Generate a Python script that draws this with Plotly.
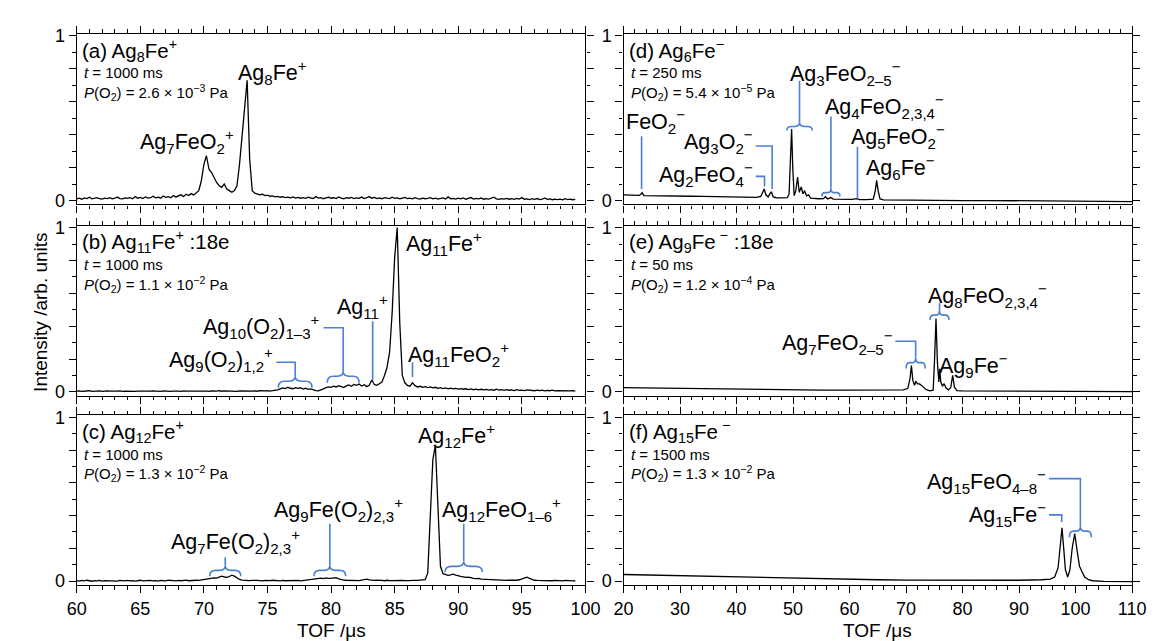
import numpy as np
import plotly.graph_objects as go

FONT = "Liberation Sans, Arial, sans-serif"
BLUE = "#4a7ed8"

# ---------------- data ----------------
TOF_LEFT = np.round(np.arange(60.0, 99.2001, 0.2), 1)

INT_A = [
    0.010, 0.014, 0.008, 0.016, 0.012, 0.020, 0.010, 0.013, 0.018, 0.011,
    0.009, 0.015, 0.012, 0.017, 0.010, 0.014, 0.021, 0.012, 0.010, 0.016,
    0.013, 0.018, 0.011, 0.024, 0.014, 0.019, 0.012, 0.022, 0.015, 0.017,
    0.026, 0.016, 0.020, 0.014, 0.028, 0.019, 0.024, 0.017, 0.030, 0.022,
    0.027, 0.035, 0.024, 0.038, 0.030, 0.042, 0.034, 0.048, 0.060, 0.120,
    0.220, 0.272, 0.190, 0.170, 0.140, 0.110, 0.090, 0.080, 0.100, 0.070,
    0.060, 0.050, 0.060, 0.090, 0.220, 0.400, 0.550, 0.730, 0.250, 0.060,
    0.045, 0.040, 0.035, 0.038, 0.030, 0.033, 0.026, 0.028, 0.022, 0.025,
    0.020, 0.024, 0.018, 0.021, 0.016, 0.022, 0.015, 0.019, 0.014, 0.018,
    0.013, 0.020, 0.016, 0.012, 0.024, 0.015, 0.018, 0.011, 0.016, 0.020,
    0.014, 0.017, 0.012, 0.022, 0.015, 0.011, 0.018, 0.014, 0.019, 0.012,
    0.016, 0.013, 0.021, 0.012, 0.017, 0.024, 0.014, 0.019, 0.012, 0.016,
    0.011, 0.018, 0.014, 0.012, 0.020, 0.013, 0.016, 0.010, 0.015, 0.019,
    0.012, 0.014, 0.010, 0.017, 0.012, 0.009, 0.015, 0.011, 0.013, 0.018,
    0.010, 0.014, 0.009, 0.012, 0.016, 0.010, 0.022, 0.011, 0.013, 0.009,
    0.014, 0.010, 0.016, 0.008, 0.012, 0.018, 0.009, 0.013, 0.010, 0.015,
    0.008, 0.012, 0.009, 0.014, 0.020, 0.010, 0.007, 0.012, 0.009, 0.013,
    0.008, 0.011, 0.007, 0.013, 0.009, 0.018, 0.008, 0.010, 0.006, 0.011,
    0.007, 0.012, 0.006, 0.009, 0.016, 0.007, 0.010, 0.005, 0.009, 0.006,
    0.008, 0.004, 0.011, 0.006, 0.009, 0.005, 0.007,
]

INT_B = [
    0.004, 0.006, 0.003, 0.005, 0.004, 0.007, 0.003, 0.005, 0.004, 0.006,
    0.003, 0.005, 0.006, 0.004, 0.003, 0.005, 0.004, 0.006, 0.003, 0.005,
    0.004, 0.006, 0.004, 0.003, 0.005, 0.004, 0.006, 0.003, 0.005, 0.004,
    0.006, 0.004, 0.005, 0.003, 0.006, 0.004, 0.005, 0.003, 0.004, 0.006,
    0.005, 0.003, 0.006, 0.004, 0.005, 0.003, 0.006, 0.005, 0.004, 0.006,
    0.004, 0.005, 0.003, 0.006, 0.004, 0.005, 0.007, 0.004, 0.006, 0.005,
    0.004, 0.006, 0.005, 0.003, 0.006, 0.005, 0.007, 0.004, 0.006, 0.005,
    0.006, 0.004, 0.007, 0.005, 0.006, 0.008, 0.005, 0.007, 0.009, 0.012,
    0.018, 0.024, 0.020, 0.028, 0.022, 0.019, 0.026, 0.021, 0.025, 0.017,
    0.022, 0.015, 0.018, 0.011, 0.008, 0.006, 0.010, 0.018, 0.026, 0.030,
    0.028, 0.035, 0.030, 0.038, 0.032, 0.027, 0.036, 0.042, 0.034, 0.045,
    0.040, 0.048, 0.036, 0.044, 0.032, 0.040, 0.072, 0.045, 0.040, 0.050,
    0.060, 0.100, 0.150, 0.240, 0.480, 0.820, 1.000, 0.420, 0.100, 0.055,
    0.040, 0.035, 0.055, 0.038, 0.030, 0.034, 0.028, 0.032, 0.026, 0.030,
    0.024, 0.028, 0.022, 0.026, 0.020, 0.024, 0.019, 0.023, 0.018, 0.021,
    0.017, 0.020, 0.016, 0.019, 0.014, 0.018, 0.013, 0.017, 0.012, 0.016,
    0.012, 0.015, 0.011, 0.014, 0.010, 0.016, 0.011, 0.013, 0.009, 0.014,
    0.010, 0.012, 0.008, 0.013, 0.009, 0.011, 0.008, 0.012, 0.009, 0.010,
    0.007, 0.011, 0.008, 0.010, 0.006, 0.009, 0.007, 0.010, 0.006, 0.008,
    0.007, 0.009, 0.005, 0.008, 0.006, 0.008, 0.005,
]

INT_C = [
    0.003, 0.000, 0.004, 0.001, 0.005, 0.002, -0.001, 0.003, 0.001, 0.004,
    0.000, 0.003, 0.002, 0.005, 0.001, 0.003, 0.000, 0.004, 0.002, 0.001,
    0.004, 0.001, 0.003, 0.000, 0.002, 0.005, 0.001, 0.003, 0.002, 0.004,
    0.001, 0.003, 0.000, 0.004, 0.002, 0.001, 0.005, 0.002, 0.003, 0.001,
    0.004, 0.002, 0.003, 0.006, 0.002, 0.004, 0.003, 0.005, 0.004, 0.007,
    0.006, 0.009, 0.012, 0.015, 0.020, 0.018, 0.024, 0.030, 0.026, 0.022,
    0.028, 0.036, 0.030, 0.018, 0.010, 0.006, 0.004, 0.005, 0.003, 0.004,
    0.002, 0.004, 0.003, 0.001, 0.004, 0.002, 0.003, 0.005, 0.002, 0.003,
    0.001, 0.004, 0.002, 0.003, 0.000, 0.003, 0.002, 0.004, 0.001, 0.003,
    0.004, 0.006, 0.009, 0.012, 0.016, 0.014, 0.018, 0.015, 0.019, 0.017,
    0.016, 0.020, 0.021, 0.014, 0.009, 0.006, 0.005, 0.004, 0.006, 0.004,
    0.005, 0.003, 0.006, 0.008, 0.012, 0.007, 0.005, 0.004, 0.006, 0.003,
    0.004, 0.002, 0.005, 0.003, 0.004, 0.002, 0.005, 0.003, 0.004, 0.003,
    0.005, 0.003, 0.004, 0.002, 0.004, 0.006, 0.005, 0.008, 0.050, 0.450,
    0.740, 0.830, 0.420, 0.090, 0.045, 0.040, 0.035, 0.038, 0.042, 0.036,
    0.030, 0.028, 0.025, 0.022, 0.024, 0.019, 0.017, 0.015, 0.016, 0.012,
    0.011, 0.009, 0.010, 0.007, 0.008, 0.006, 0.008, 0.005, 0.006, 0.004,
    0.005, 0.004, 0.006, 0.005, 0.008, 0.012, 0.020, 0.024, 0.016, 0.008,
    0.005, 0.004, 0.003, 0.005, 0.002, 0.004, 0.003, 0.002, 0.004, 0.002,
    0.003, 0.001, 0.004, 0.002, 0.003, 0.001, 0.002,
]

TOF_D = [20, 21, 22, 22.8, 23.1, 23.3, 23.6, 24.5, 26, 28, 30, 32, 34, 36, 38, 40, 42,
         43.5, 44.3, 44.7, 44.9, 45.2, 45.6, 45.9, 46.15, 46.5, 47, 48, 49, 49.3, 49.55,
         49.75, 49.95, 50.2, 50.5, 50.8, 51.1, 51.45, 51.75, 52.05, 52.4, 52.75, 53.1,
         53.6, 54.5, 55.4, 55.75, 56.1, 56.4, 56.7, 57.1, 58, 59, 60.5, 61.2, 61.8, 63,
         64.2, 64.55, 64.8, 65.05, 65.4, 66, 68, 72, 76, 80, 85, 90, 95, 100, 105, 110]
INT_D = [0.034, 0.033, 0.032, 0.031, 0.040, 0.048, 0.030, 0.030, 0.029, 0.028, 0.027,
         0.026, 0.025, 0.024, 0.023, 0.021, 0.020, 0.019, 0.025, 0.055, 0.070, 0.035,
         0.022, 0.040, 0.053, 0.022, 0.017, 0.016, 0.018, 0.040, 0.250, 0.434, 0.200,
         0.030, 0.060, 0.143, 0.050, 0.083, 0.040, 0.060, 0.028, 0.034, 0.015, 0.012,
         0.011, 0.012, 0.024, 0.010, 0.012, 0.018, 0.009, 0.008, 0.008, 0.007, 0.011,
         0.006, 0.006, 0.008, 0.060, 0.123, 0.060, 0.010, 0.004, 0.003, 0.002, 0.001,
         0.000, 0.000, -0.002, -0.003, -0.004, -0.005, -0.006]

TOF_E = [20, 24, 28, 32, 36, 40, 45, 50, 55, 60, 65, 68, 69.5, 70.3, 70.7, 70.95, 71.2,
         71.5, 71.75, 72.0, 72.4, 72.9, 73.5, 74.2, 74.8, 75.05, 75.3, 75.55, 75.8, 75.95,
         76.15, 76.45, 76.75, 77.05, 77.5, 77.9, 78.25, 78.55, 79.0, 80, 85, 90, 95, 100,
         105, 110]
INT_E = [0.026, 0.024, 0.022, 0.020, 0.017, 0.015, 0.013, 0.012, 0.011, 0.011, 0.010,
         0.010, 0.012, 0.020, 0.080, 0.160, 0.070, 0.040, 0.065, 0.050, 0.048, 0.035,
         0.015, 0.006, 0.010, 0.200, 0.447, 0.180, 0.060, 0.140, 0.060, 0.035, 0.050,
         0.025, 0.012, 0.025, 0.100, 0.030, 0.008, 0.006, 0.005, 0.004, 0.004, 0.003,
         0.003, 0.002]

TOF_F = [20, 25, 30, 35, 40, 45, 50, 55, 60, 65, 70, 75, 80, 85, 90, 94, 95.5, 96.3,
         96.9, 97.3, 97.6, 97.9, 98.2, 98.6, 99.0, 99.4, 99.85, 100.3, 100.7, 101.1,
         101.6, 102.3, 103, 105, 110]
INT_F = [0.040, 0.036, 0.032, 0.028, 0.024, 0.020, 0.016, 0.013, 0.010, 0.008, 0.006,
         0.005, 0.004, 0.004, 0.005, 0.008, 0.012, 0.025, 0.080, 0.220, 0.325, 0.200,
         0.070, 0.025, 0.070, 0.200, 0.290, 0.180, 0.090, 0.060, 0.025, 0.008, 0.002,
         -0.002, -0.004]

for a in (INT_A, INT_B, INT_C):
    assert len(a) == len(TOF_LEFT), len(a)
assert len(TOF_D) == len(INT_D)
assert len(TOF_E) == len(INT_E)
assert len(TOF_F) == len(INT_F)

PANEL_TITLES = {
    1: "(a) Ag<sub>8</sub>Fe<sup>+</sup>",
    3: "(b) Ag<sub>11</sub>Fe<sup>+</sup> :18e",
    5: "(c) Ag<sub>12</sub>Fe<sup>+</sup>",
    2: "(d) Ag<sub>6</sub>Fe<sup>−</sup>",
    4: "(e) Ag<sub>9</sub>Fe<sup> −</sup> :18e",
    6: "(f) Ag<sub>15</sub>Fe<sup> −</sup>",
}
TIMES = {1: "1000", 3: "1000", 5: "1000", 2: "250", 4: "50", 6: "1500"}
PRESSURES = {1: ("2.6", "3"), 3: ("1.1", "2"), 5: ("1.3", "2"),
             2: ("5.4", "5"), 4: ("1.2", "4"), 6: ("1.3", "2")}

# ---------------- layout geometry ----------------
W, H = 1156, 641
XL = [60 / W, 580 / W]
XR = [618.9 / W, 1138.7 / W]
ROWS = [[1 - 192.7 / H, 1 - 18.3 / H], [1 - 388.3 / H, 1 - 214.3 / H], [1 - 581.7 / H, 1 - 408.3 / H]]
YR = [-0.024, 1.012]
LBL = 21.5   # peak label size
TTL = 20.5   # panel title size
SML = 15     # condition text size

fig = go.Figure()
series = {1: (TOF_LEFT, INT_A), 3: (TOF_LEFT, INT_B), 5: (TOF_LEFT, INT_C),
          2: (TOF_D, INT_D), 4: (TOF_E, INT_E), 6: (TOF_F, INT_F)}
for idx, (xs, ys) in series.items():
    sfx = "" if idx == 1 else str(idx)
    fig.add_trace(go.Scatter(x=list(xs), y=ys, mode="lines",
                             line=dict(color="black", width=1.3),
                             xaxis="x" + sfx, yaxis="y" + sfx, hoverinfo="skip"))

layout = dict(width=W, height=H, margin=dict(l=0, r=0, t=0, b=0),
              paper_bgcolor="white", plot_bgcolor="white", showlegend=False,
              font=dict(family=FONT, color="black"))
for idx in range(1, 7):
    left = idx % 2 == 1
    row = (idx - 1) // 2
    sfx = "" if idx == 1 else str(idx)
    layout["xaxis" + sfx] = dict(
        domain=XL if left else XR, anchor="y" + sfx,
        range=[60, 100] if left else [20, 110],
        dtick=5 if left else 10, tick0=0,
        minor=dict(dtick=1 if left else 2, ticks="outside", ticklen=3.5,
                   tickcolor="black", tickwidth=1),
        ticks="outside", ticklen=7, tickwidth=1.2, tickcolor="black",
        showline=True, linecolor="black", linewidth=1.2, mirror="ticks",
        showgrid=False, zeroline=False, showticklabels=(row == 2),
        tickfont=dict(size=18, family=FONT, color="black"))
    layout["yaxis" + sfx] = dict(
        domain=ROWS[row], anchor="x" + sfx, range=YR,
        tickvals=[0, 1], ticktext=["0", "1"],
        minor=dict(tickvals=[0.1, 0.3, 0.5, 0.7, 0.9], ticks="outside", ticklen=3.5,
                   tickcolor="black", tickwidth=1),
        ticks="outside", ticklen=7, tickwidth=1.2, tickcolor="black",
        showline=True, linecolor="black", linewidth=1.2, mirror="ticks",
        showgrid=False, zeroline=False,
        tickfont=dict(size=18, family=FONT, color="black"))
    # overlay axis carrying the longer ticks at 0.2 steps (no labels)
    layout["yaxis%d" % (idx + 6)] = dict(
        overlaying="y" + sfx, anchor="x" + sfx, side="left", range=YR,
        tickvals=[0.2, 0.4, 0.6, 0.8], showticklabels=False,
        ticks="outside", ticklen=7, tickwidth=1.2, tickcolor="black",
        showline=True, linecolor="black", linewidth=1.2, mirror="ticks",
        showgrid=False, zeroline=False)
fig.update_layout(**layout)
# dummy invisible traces so that overlay axes are drawn
for idx in range(1, 7):
    sfx = "" if idx == 1 else str(idx)
    fig.add_trace(go.Scatter(x=[None], y=[None], mode="lines", xaxis="x" + sfx,
                             yaxis="y%d" % (idx + 6), hoverinfo="skip", showlegend=False))

ann = []
shapes = []


def ref(idx):
    sfx = "" if idx == 1 else str(idx)
    return "x" + sfx, "y" + sfx


for idx in range(1, 7):
    xr, yr = ref(idx)
    ann.append(dict(xref=xr + " domain", yref=yr + " domain", x=0.006, y=0.904,
                    text=PANEL_TITLES[idx], showarrow=False, xanchor="left", yanchor="middle",
                    font=dict(size=TTL, family=FONT, color="black")))
    ann.append(dict(xref=xr + " domain", yref=yr + " domain", x=0.011, y=0.771,
                    text="<i>t</i> = %s ms" % TIMES[idx], showarrow=False,
                    xanchor="left", yanchor="middle",
                    font=dict(size=SML, family=FONT, color="black")))
    m, e = PRESSURES[idx]
    ann.append(dict(xref=xr + " domain", yref=yr + " domain", x=0.011, y=0.656,
                    text="<i>P</i>(O<sub>2</sub>) = %s × 10<sup>−%s</sup> Pa" % (m, e),
                    showarrow=False, xanchor="left", yanchor="middle",
                    font=dict(size=SML, family=FONT, color="black")))


def label(idx, x, y, text, anchor="center"):
    xr, yr = ref(idx)
    ann.append(dict(xref=xr, yref=yr, x=x, y=y, text=text, showarrow=False,
                    xanchor=anchor, yanchor="middle",
                    font=dict(size=LBL, family=FONT, color="black")))


def polyline(idx, pts):
    xr, yr = ref(idx)
    path = "M " + " L ".join("%.3f,%.4f" % p for p in pts)
    shapes.append(dict(type="path", xref=xr, yref=yr, path=path,
                       line=dict(color=BLUE, width=1.6)))


def brace(idx, x0, x1, y_end, y_bar, y_tip):
    xr, yr = ref(idx)
    xm = 0.5 * (x0 + x1)
    r = 0.18 * (x1 - x0)
    f = lambda x, y: "%.3f,%.4f" % (x, y)
    path = ("M " + f(x0, y_end) + " Q " + f(x0, y_bar) + " " + f(x0 + r, y_bar) +
            " L " + f(xm - r, y_bar) + " Q " + f(xm, y_bar) + " " + f(xm, y_tip) +
            " Q " + f(xm, y_bar) + " " + f(xm + r, y_bar) +
            " L " + f(x1 - r, y_bar) + " Q " + f(x1, y_bar) + " " + f(x1, y_end))
    shapes.append(dict(type="path", xref=xr, yref=yr, path=path,
                       line=dict(color=BLUE, width=1.6)))


# (a)
label(1, 75.4, 0.775, "Ag<sub>8</sub>Fe<sup>+</sup>")
label(1, 72.5, 0.36, "Ag<sub>7</sub>FeO<sub>2</sub><sup>+</sup>", "right")
# (b)
label(3, 85.7, 0.905, "Ag<sub>11</sub>Fe<sup>+</sup>", "left")
label(3, 82.5, 0.52, "Ag<sub>11</sub><sup>+</sup>")
label(3, 79.3, 0.40, "Ag<sub>10</sub>(O<sub>2</sub>)<sub>1–3</sub><sup>+</sup>", "right")
label(3, 75.6, 0.20, "Ag<sub>9</sub>(O<sub>2</sub>)<sub>1,2</sub><sup>+</sup>", "right")
label(3, 85.86, 0.23, "Ag<sub>11</sub>FeO<sub>2</sub><sup>+</sup>", "left")
polyline(3, [(83.27, 0.43), (83.27, 0.07)])
brace(3, 79.7, 82.2, 0.055, 0.095, 0.125)
polyline(3, [(79.4, 0.39), (80.95, 0.39), (80.95, 0.125)])
brace(3, 75.85, 78.5, 0.025, 0.065, 0.095)
polyline(3, [(75.7, 0.18), (77.18, 0.18), (77.18, 0.095)])
polyline(3, [(86.4, 0.18), (86.4, 0.09)])
# (c)
label(5, 89.9, 0.89, "Ag<sub>12</sub>Fe<sup>+</sup>")
label(5, 80.55, 0.435, "Ag<sub>9</sub>Fe(O<sub>2</sub>)<sub>2,3</sub><sup>+</sup>")
label(5, 72.46, 0.24, "Ag<sub>7</sub>Fe(O<sub>2</sub>)<sub>2,3</sub><sup>+</sup>")
label(5, 93.4, 0.435, "Ag<sub>12</sub>FeO<sub>1–6</sub><sup>+</sup>")
brace(5, 78.65, 81.15, 0.03, 0.065, 0.095)
polyline(5, [(79.9, 0.35), (79.9, 0.095)])
brace(5, 70.46, 72.9, 0.03, 0.065, 0.095)
polyline(5, [(71.68, 0.145), (71.68, 0.095)])
brace(5, 88.95, 91.9, 0.055, 0.09, 0.12)
polyline(5, [(90.43, 0.35), (90.43, 0.12)])
# (d)
label(2, 25.7, 0.48, "FeO<sub>2</sub><sup>−</sup>")
label(2, 43.3, 0.36, "Ag<sub>3</sub>O<sub>2</sub><sup>−</sup>", "right")
label(2, 43.3, 0.16, "Ag<sub>2</sub>FeO<sub>4</sub><sup>−</sup>", "right")
label(2, 59.3, 0.77, "Ag<sub>3</sub>FeO<sub>2–5</sub><sup>−</sup>")
label(2, 66.1, 0.57, "Ag<sub>4</sub>FeO<sub>2,3,4</sub><sup>−</sup>")
label(2, 68.6, 0.39, "Ag<sub>5</sub>FeO<sub>2</sub><sup>−</sup>")
label(2, 69.1, 0.20, "Ag<sub>6</sub>Fe<sup>−</sup>")
polyline(2, [(23.2, 0.39), (23.2, 0.07)])
polyline(2, [(43.4, 0.331), (46.3, 0.331), (46.3, 0.07)])
polyline(2, [(43.4, 0.147), (44.95, 0.147), (44.95, 0.085)])
brace(2, 48.9, 53.4, 0.425, 0.45, 0.475)
polyline(2, [(51.15, 0.727), (51.15, 0.475)])
brace(2, 55.1, 58.3, 0.024, 0.048, 0.072)
polyline(2, [(56.7, 0.51), (56.7, 0.072)])
polyline(2, [(61.4, 0.327), (61.4, 0.014)])
# (e)
label(4, 84.5, 0.586, "Ag<sub>8</sub>FeO<sub>2,3,4</sub><sup>−</sup>")
label(4, 68.0, 0.30, "Ag<sub>7</sub>FeO<sub>2–5</sub><sup>−</sup>", "right")
label(4, 81.9, 0.16, "Ag<sub>9</sub>Fe<sup>−</sup>")
brace(4, 74.25, 77.6, 0.437, 0.467, 0.497)
polyline(4, [(75.93, 0.54), (75.93, 0.497)])
brace(4, 70.0, 73.4, 0.143, 0.178, 0.21)
polyline(4, [(68.1, 0.308), (71.7, 0.308), (71.7, 0.21)])
# (f)
label(6, 95.2, 0.606, "Ag<sub>15</sub>FeO<sub>4–8</sub><sup>−</sup>", "right")
label(6, 95.2, 0.408, "Ag<sub>15</sub>Fe<sup>−</sup>", "right")
brace(6, 98.9, 102.8, 0.268, 0.305, 0.335)
polyline(6, [(95.3, 0.626), (100.85, 0.626), (100.85, 0.335)])
polyline(6, [(95.3, 0.404), (97.55, 0.404), (97.55, 0.36)])

# axis titles
ann.append(dict(xref="paper", yref="paper", x=23 / W, y=1 - 303 / H,
                text="Intensity /arb. units", textangle=-90, showarrow=False,
                xanchor="center", yanchor="middle",
                font=dict(size=19, family=FONT, color="black")))
for xc in ((XL[0] + XL[1]) / 2, (XR[0] + XR[1]) / 2):
    ann.append(dict(xref="paper", yref="paper", x=xc, y=1 - 628 / H,
                    text="TOF /μs", showarrow=False, xanchor="center", yanchor="middle",
                    font=dict(size=19, family=FONT, color="black")))

fig.update_layout(annotations=ann, shapes=shapes)
fig.write_html("out.html")
